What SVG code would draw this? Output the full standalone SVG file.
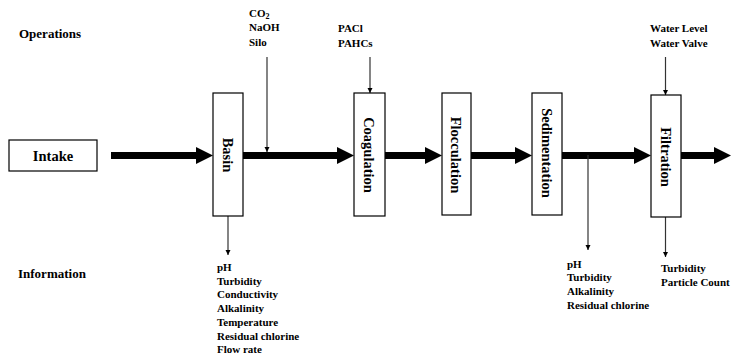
<svg xmlns="http://www.w3.org/2000/svg" width="731" height="356" viewBox="0 0 731 356">
<style>
text{font-family:"Liberation Serif","Times New Roman",serif;font-weight:bold;fill:#000}
.box{fill:#fff;stroke:#000;stroke-width:1.2}
.lbl{font-size:14.5px}
.sm{font-size:11px}
.hd{font-size:13px}
.thick{stroke:#000;stroke-width:7;fill:none}
.thin{stroke:#333;stroke-width:1.2;fill:none}
</style>
<defs>
<marker id="big" markerUnits="userSpaceOnUse" markerWidth="17" markerHeight="17" refX="0" refY="8.5" orient="auto">
<path d="M0,0 L17,8.5 L0,17 z" fill="#000"/>
</marker>
<marker id="small" markerUnits="userSpaceOnUse" markerWidth="6" markerHeight="6" refX="5" refY="2.5" orient="auto">
<path d="M0,0 L5,2.5 L0,5 z" fill="#000"/>
</marker>
</defs>
<text class="hd" x="19" y="37.5">Operations</text>
<text class="hd" x="18" y="277.5">Information</text>
<g id="connectors">
<line class="thick" x1="111" y1="155.5" x2="196" y2="155.5" marker-end="url(#big)"/>
<line class="thick" x1="243" y1="155.5" x2="337" y2="155.5" marker-end="url(#big)"/>
<line class="thick" x1="385" y1="155.5" x2="425" y2="155.5" marker-end="url(#big)"/>
<line class="thick" x1="471" y1="155.5" x2="515" y2="155.5" marker-end="url(#big)"/>
<line class="thick" x1="562" y1="155.5" x2="634" y2="155.5" marker-end="url(#big)"/>
<line class="thick" x1="681" y1="155.5" x2="714" y2="155.5" marker-end="url(#big)"/>
<line class="thin" x1="267" y1="57" x2="267" y2="152" marker-end="url(#small)"/>
<line class="thin" x1="370" y1="57" x2="370" y2="93" marker-end="url(#small)"/>
<line class="thin" x1="665.5" y1="57" x2="665.5" y2="95" marker-end="url(#small)"/>
<line class="thin" x1="228" y1="216" x2="228" y2="255" marker-end="url(#small)"/>
<line class="thin" x1="588" y1="155" x2="588" y2="250" marker-end="url(#small)"/>
<line class="thin" x1="665.5" y1="217" x2="665.5" y2="257" marker-end="url(#small)"/>
</g>
<g id="intake">
<rect class="box" x="9" y="140" width="88" height="31"/>
<text class="lbl" x="53" y="160.5" text-anchor="middle">Intake</text>
</g>
<g id="basin">
<rect class="box" x="213" y="93" width="30" height="123"/>
<text class="lbl" transform="translate(228,155) rotate(90)" text-anchor="middle" dy="0.35em">Basin</text>
</g>
<g id="coagulation">
<rect class="box" x="354" y="93" width="31" height="123"/>
<text class="lbl" transform="translate(369.5,155) rotate(90)" text-anchor="middle" dy="0.35em">Coagulation</text>
</g>
<g id="flocculation">
<rect class="box" x="442" y="93" width="29" height="122"/>
<text class="lbl" transform="translate(456.5,155) rotate(90)" text-anchor="middle" dy="0.35em">Flocculation</text>
</g>
<g id="sedimentation">
<rect class="box" x="532" y="93" width="30" height="122"/>
<text class="lbl" transform="translate(547,153) rotate(90)" text-anchor="middle" dy="0.35em">Sedimentation</text>
</g>
<g id="filtration">
<rect class="box" x="651" y="95" width="30" height="122"/>
<text class="lbl" transform="translate(666,157) rotate(90)" text-anchor="middle" dy="0.35em">Filtration</text>
</g>
<g id="basin-inputs">
<text class="sm" x="249" y="17">CO<tspan font-size="8" dy="2">2</tspan></text>
<text class="sm" x="249" y="31">NaOH</text>
<text class="sm" x="249" y="45.5">Silo</text>
</g>
<g id="coagulation-inputs">
<text class="sm" x="338" y="32">PACl</text>
<text class="sm" x="338" y="46.5">PAHCs</text>
</g>
<g id="filtration-inputs">
<text class="sm" x="650" y="32">Water Level</text>
<text class="sm" x="650" y="46.5">Water Valve</text>
</g>
<g id="basin-info">
<text class="sm" x="217" y="271">pH</text>
<text class="sm" x="217" y="284.7">Turbidity</text>
<text class="sm" x="217" y="298.4">Conductivity</text>
<text class="sm" x="217" y="312.1">Alkalinity</text>
<text class="sm" x="217" y="325.8">Temperature</text>
<text class="sm" x="217" y="339.5">Residual chlorine</text>
<text class="sm" x="217" y="353.2">Flow rate</text>
</g>
<g id="sedimentation-info">
<text class="sm" x="567" y="267.5">pH</text>
<text class="sm" x="567" y="281.4">Turbidity</text>
<text class="sm" x="567" y="295.3">Alkalinity</text>
<text class="sm" x="567" y="309.2">Residual chlorine</text>
</g>
<g id="filtration-info">
<text class="sm" x="661" y="272">Turbidity</text>
<text class="sm" x="661" y="286" font-size="10.5">Particle Count</text>
</g>
</svg>
